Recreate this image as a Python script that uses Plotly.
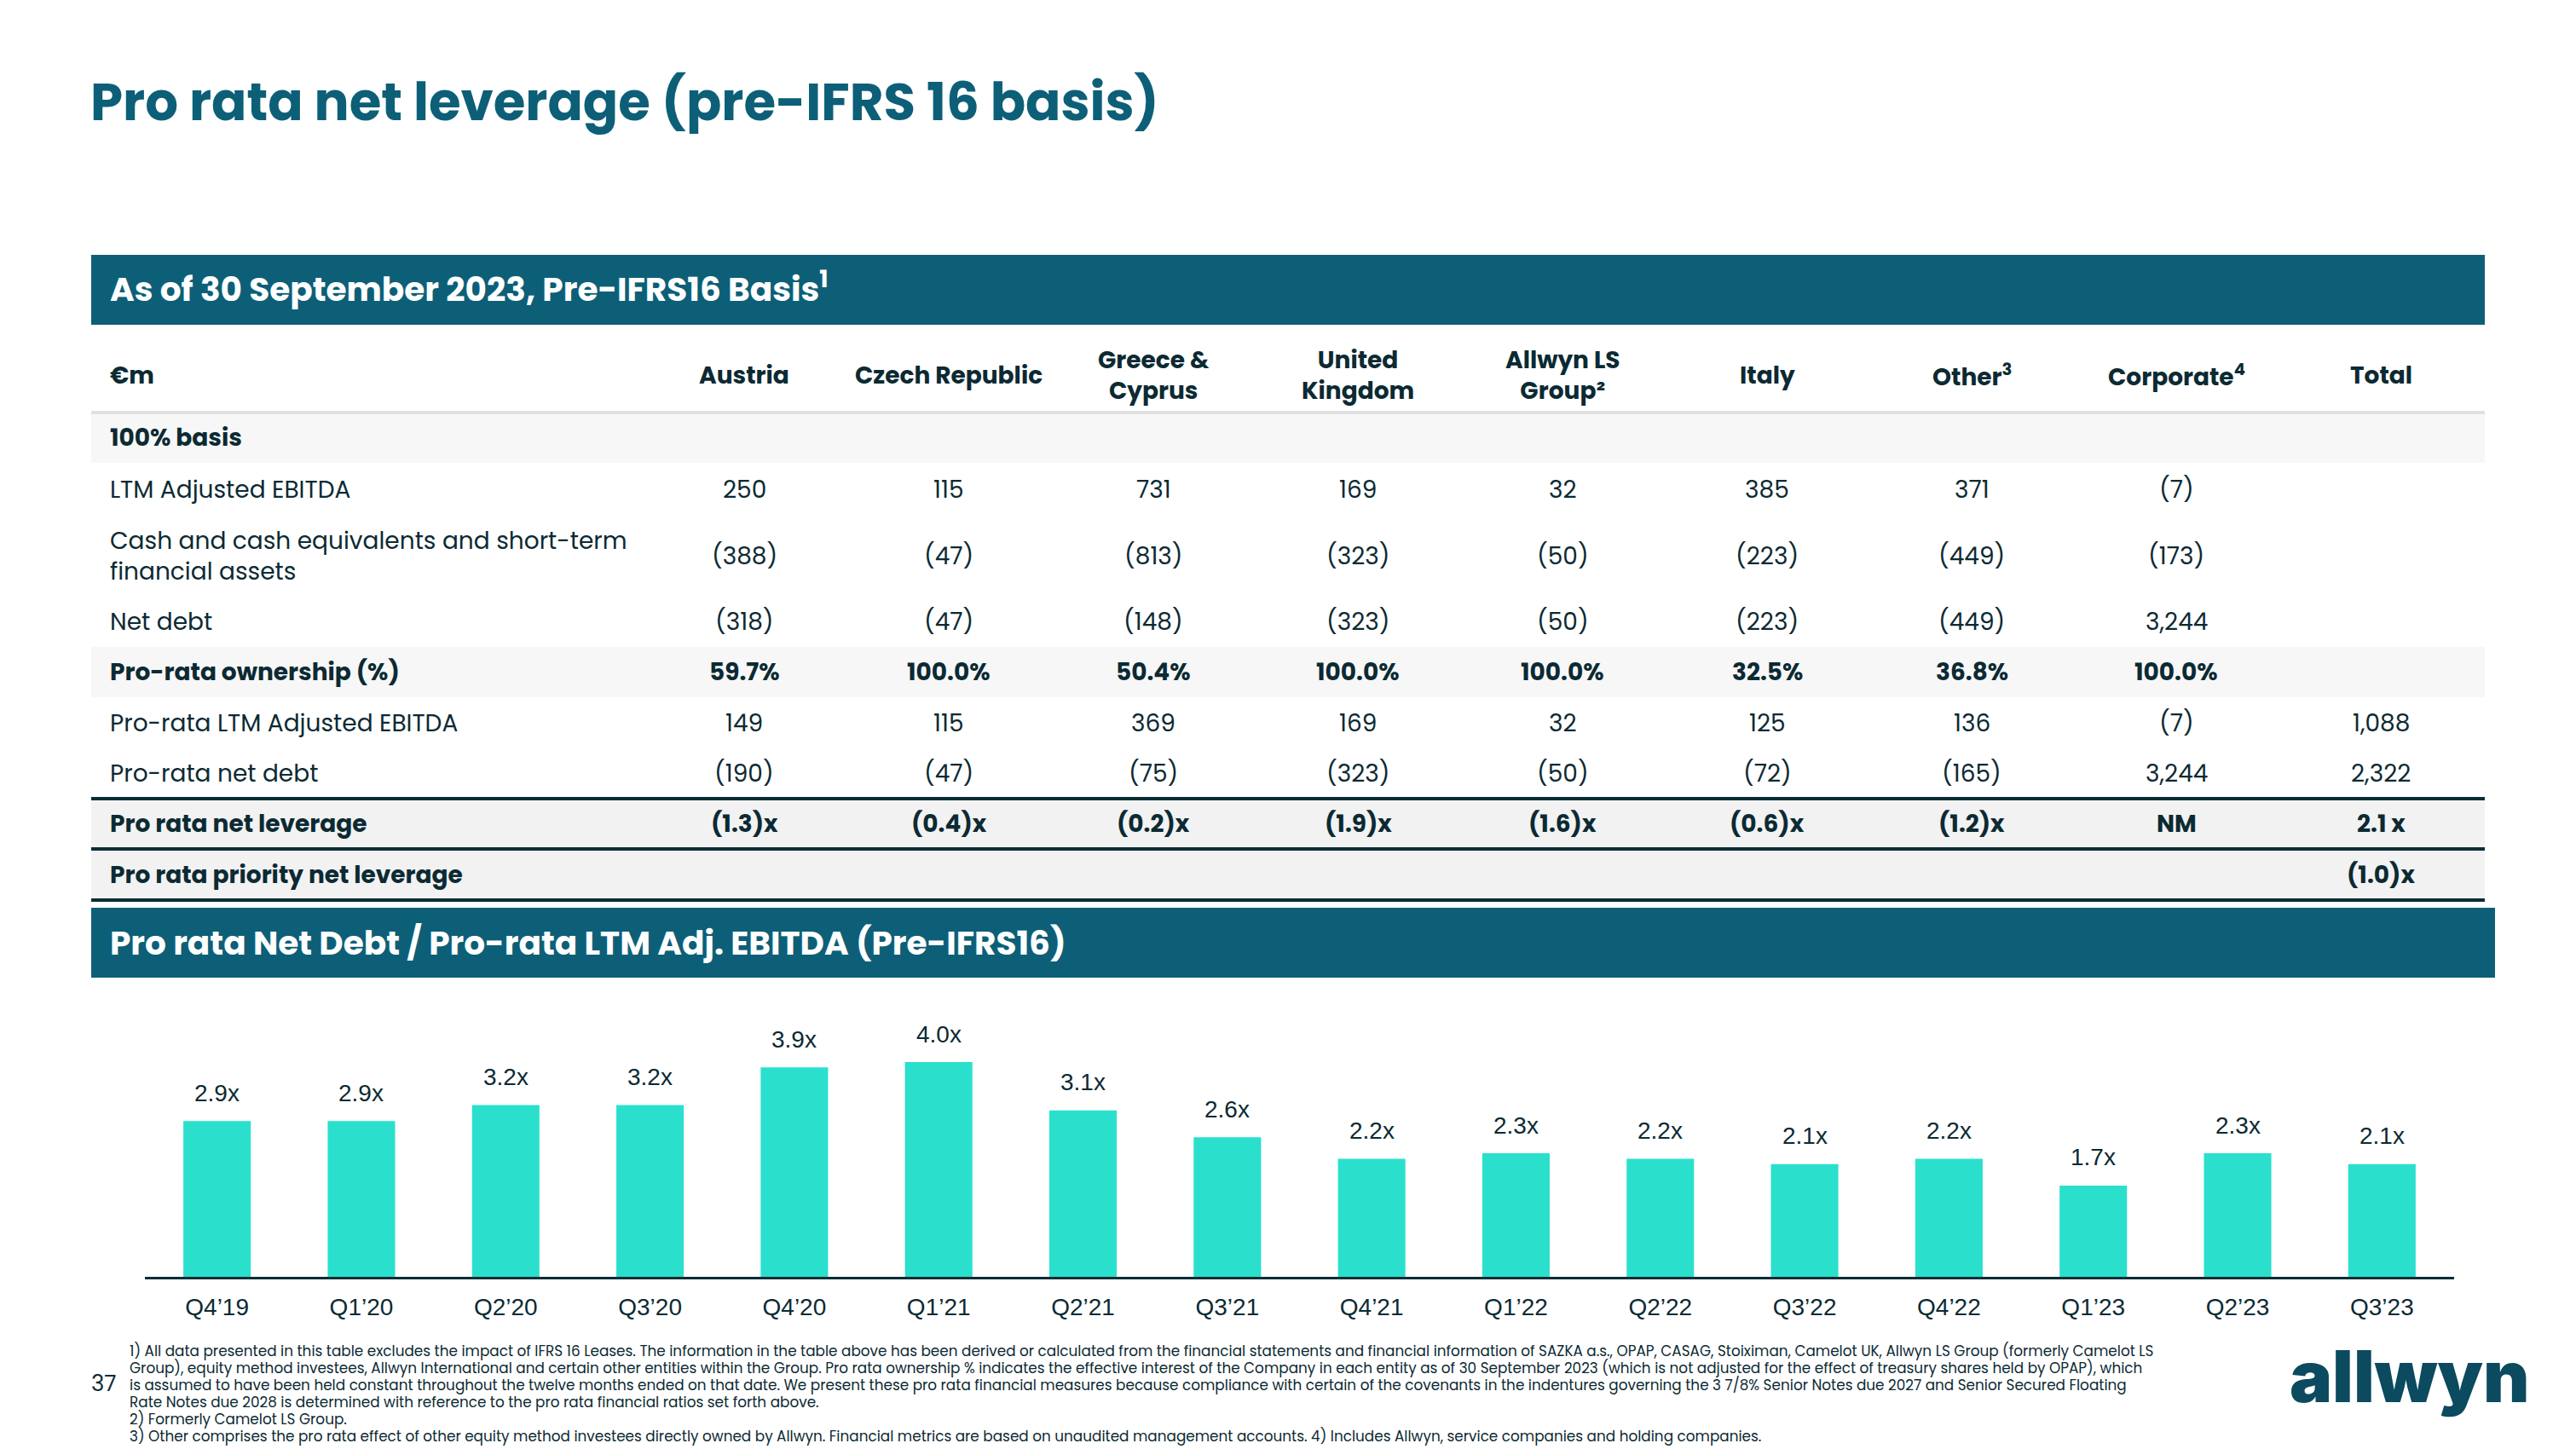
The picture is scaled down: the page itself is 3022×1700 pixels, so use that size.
import plotly.graph_objects as go

W, H = 3022, 1700

# ---------------- data ----------------
columns = ["Austria", "Czech Republic", "Greece &<br>Cyprus", "United<br>Kingdom",
           "Allwyn LS<br>Group²", "Italy", "Other<sup>3</sup>", "Corporate<sup>4</sup>", "Total"]
ltm_ebitda = [250, 115, 731, 169, 32, 385, 371, -7, None]
cash_sti = [-388, -47, -813, -323, -50, -223, -449, -173, None]
net_debt = [-318, -47, -148, -323, -50, -223, -449, 3244, None]
ownership_pct = [59.7, 100.0, 50.4, 100.0, 100.0, 32.5, 36.8, 100.0, None]
pr_ltm_ebitda = [149, 115, 369, 169, 32, 125, 136, -7, 1088]
pr_net_debt = [-190, -47, -75, -323, -50, -72, -165, 3244, 2322]
pr_net_leverage = [-1.3, -0.4, -0.2, -1.9, -1.6, -0.6, -1.2, "NM", 2.1]
pr_priority_leverage = [None, None, None, None, None, None, None, None, -1.0]

quarters = ["Q4’19", "Q1’20", "Q2’20", "Q3’20", "Q4’20", "Q1’21", "Q2’21", "Q3’21",
            "Q4’21", "Q1’22", "Q2’22", "Q3’22", "Q4’22", "Q1’23", "Q2’23", "Q3’23"]
leverage = [2.9, 2.9, 3.2, 3.2, 3.9, 4.0, 3.1, 2.6, 2.2, 2.3, 2.2, 2.1, 2.2, 1.7, 2.3, 2.1]

footnotes = [
    "1) All data presented in this table excludes the impact of IFRS 16 Leases. The information in the table above has been derived or calculated from the financial statements and financial information of SAZKA a.s., OPAP, CASAG, Stoiximan, Camelot UK, Allwyn LS Group (formerly Camelot LS",
    "Group), equity method investees, Allwyn International and certain other entities within the Group. Pro rata ownership % indicates the effective interest of the Company in each entity as of 30 September 2023 (which is not adjusted for the effect of treasury shares held by OPAP), which",
    "is assumed to have been held constant throughout the twelve months ended on that date. We present these pro rata financial measures because compliance with certain of the covenants in the indentures governing the 3 7/8% Senior Notes due 2027 and Senior Secured Floating",
    "Rate Notes due 2028 is determined with reference to the pro rata financial ratios set forth above.",
    "2) Formerly Camelot LS Group.",
    "3) Other comprises the pro rata effect of other equity method investees directly owned by Allwyn. Financial metrics are based on unaudited management accounts. 4) Includes Allwyn, service companies and holding companies.",
]

# ---------------- styles ----------------
TEAL = "#0d5f78"
DARK = "#0c2a33"
BAR = "#2ae0cd"
FONT = "Poppins, Open Sans, sans-serif"
CHART_FONT = "Liberation Sans, Arial, sans-serif"


def fmt_num(v):
    if v is None:
        return ""
    return f"({abs(v):,})" if v < 0 else f"{v:,}"


def fmt_pct(v):
    return "" if v is None else f"{v:.1f}%"


def fmt_lev(v):
    if v is None:
        return ""
    if isinstance(v, str):
        return v
    return f"({abs(v):.1f})x" if v < 0 else f"{v:.1f} x"


rows = [
    ("100% basis", None, fmt_num, True, "#f7f7f7"),
    ("LTM Adjusted EBITDA", ltm_ebitda, fmt_num, False, None),
    ("Cash and cash equivalents and short-term<br>financial assets", cash_sti, fmt_num, False, None),
    ("Net debt", net_debt, fmt_num, False, None),
    ("Pro-rata ownership (%)", ownership_pct, fmt_pct, True, "#f7f7f7"),
    ("Pro-rata LTM Adjusted EBITDA", pr_ltm_ebitda, fmt_num, False, None),
    ("Pro-rata net debt", pr_net_debt, fmt_num, False, None),
    ("Pro rata net leverage", pr_net_leverage, fmt_lev, True, "#f2f2f2"),
    ("Pro rata priority net leverage", pr_priority_leverage, fmt_lev, True, "#f2f2f2"),
]
row_heights = [59, 63, 93, 60, 59, 60, 59, 59, 60]

# layout geometry (pixels)
TABLE_LEFT, TABLE_RIGHT = 107, 2915
BAND1_TOP, BAND1_BOT = 299, 381
HEADER_BOT = 484
BAND2_TOP, BAND2_BOT, BAND2_RIGHT = 1065, 1147, 2927
LABEL_X = 127
COL_X0, COL_DX = 873, 240
AXIS_Y, UNIT_PX, YMAX = 1498, 63, 4.5
CHART_LEFT, CHART_RIGHT = 170, 2879


def px(x):
    return x / W


def py(y):
    return 1 - y / H


fig = go.Figure()

# bar chart
fig.add_trace(go.Bar(
    x=quarters, y=leverage, marker=dict(color=BAR, line=dict(width=0)),
    hoverinfo="skip", showlegend=False, xaxis="x", yaxis="y",
))
# empty trace to instantiate the table axes
fig.add_trace(go.Scatter(x=[], y=[], xaxis="x2", yaxis="y2", showlegend=False))

annotations = []
shapes = []

# bar labels
for q, v in zip(quarters, leverage):
    annotations.append(dict(x=q, y=v, xref="x", yref="y", text=f"{v:.1f}x", showarrow=False,
                            yanchor="middle", yshift=33,
                            font=dict(family=CHART_FONT, size=28, color=DARK)))

# title
annotations.append(dict(x=px(104), y=py(120), xref="paper", yref="paper", xanchor="left", yanchor="middle",
                        text="<b>Pro rata net leverage (pre-IFRS 16 basis)</b>", showarrow=False,
                        font=dict(family=FONT, size=61, color=TEAL)))

# section bands
shapes.append(dict(type="rect", xref="paper", yref="paper", x0=px(TABLE_LEFT), x1=px(TABLE_RIGHT),
                   y0=py(BAND1_BOT), y1=py(BAND1_TOP), fillcolor=TEAL, line=dict(width=0), layer="below"))
shapes.append(dict(type="rect", xref="paper", yref="paper", x0=px(TABLE_LEFT), x1=px(BAND2_RIGHT),
                   y0=py(BAND2_BOT), y1=py(BAND2_TOP), fillcolor=TEAL, line=dict(width=0), layer="below"))
annotations.append(dict(x=px(LABEL_X), y=py((BAND1_TOP + BAND1_BOT) / 2 - 3), xref="paper", yref="paper",
                        xanchor="left", yanchor="middle", showarrow=False,
                        text="<b>As of 30 September 2023, Pre-IFRS16 Basis<sup>1</sup></b>",
                        font=dict(family=FONT, size=39, color="white")))
annotations.append(dict(x=px(LABEL_X), y=py((BAND2_TOP + BAND2_BOT) / 2), xref="paper", yref="paper",
                        xanchor="left", yanchor="middle", showarrow=False,
                        text="<b>Pro rata Net Debt / Pro-rata LTM Adj. EBITDA (Pre-IFRS16)</b>",
                        font=dict(family=FONT, size=39, color="white")))

# table header
label_x_units = (LABEL_X - COL_X0) / COL_DX
hdr_y = (BAND1_BOT + HEADER_BOT) / 2 + 8
annotations.append(dict(x=label_x_units, y=hdr_y, xref="x2", yref="y2", xanchor="left", yanchor="middle",
                        text="<b>€m</b>", showarrow=False, font=dict(family=FONT, size=28, color=DARK)))
for i, c in enumerate(columns):
    annotations.append(dict(x=i, y=hdr_y, xref="x2", yref="y2", xanchor="center", yanchor="middle",
                            text=f"<b>{c}</b>", showarrow=False,
                            font=dict(family=FONT, size=28, color=DARK)))

# table rows
top = HEADER_BOT
bounds = []
for (label, vals, fmt, bold, fill), h in zip(rows, row_heights):
    bot = top + h
    bounds.append((top, bot))
    if fill:
        shapes.append(dict(type="rect", xref="paper", yref="y2", x0=px(TABLE_LEFT), x1=px(TABLE_RIGHT),
                           y0=top, y1=bot, fillcolor=fill, line=dict(width=0), layer="below"))
    cy = (top + bot) / 2
    t = f"<b>{label}</b>" if bold else label
    annotations.append(dict(x=label_x_units, y=cy, xref="x2", yref="y2", xanchor="left", yanchor="middle",
                            text=t, showarrow=False, align="left",
                            font=dict(family=FONT, size=28, color=DARK)))
    if vals is not None:
        for i, v in enumerate(vals):
            s = fmt(v)
            if not s:
                continue
            annotations.append(dict(x=i, y=cy, xref="x2", yref="y2", xanchor="center", yanchor="middle",
                                    text=f"<b>{s}</b>" if bold else s, showarrow=False,
                                    font=dict(family=FONT, size=28, color=DARK)))
    top = bot

# header separator and dark rules
shapes.append(dict(type="line", xref="paper", yref="y2", x0=px(TABLE_LEFT), x1=px(TABLE_RIGHT),
                   y0=HEADER_BOT, y1=HEADER_BOT, line=dict(color="#e0e0e0", width=4)))
for yy in (bounds[7][0], bounds[7][1], bounds[8][1]):
    shapes.append(dict(type="line", xref="paper", yref="y2", x0=px(TABLE_LEFT), x1=px(TABLE_RIGHT),
                       y0=yy, y1=yy, line=dict(color="#0b2d36", width=4)))

# footnotes
for k, line in enumerate(footnotes):
    annotations.append(dict(x=px(150), y=py(1585 + 20 * k), xref="paper", yref="paper",
                            xanchor="left", yanchor="middle", text=line, showarrow=False,
                            font=dict(family=FONT, size=16.85, color=DARK)))

# page number
annotations.append(dict(x=px(122), y=py(1623), xref="paper", yref="paper", xanchor="center", yanchor="middle",
                        text="37", showarrow=False, font=dict(family=FONT, size=26, color=DARK)))

# logo
annotations.append(dict(x=px(2826), y=py(1614), xref="paper", yref="paper", xanchor="center", yanchor="middle",
                        text="allwyn", showarrow=False,
                        font=dict(family="Inter, sans-serif", size=84, color="#0b4a5f", weight=900)))

fig.update_layout(
    width=W, height=H, autosize=False,
    margin=dict(l=0, r=0, t=0, b=0, pad=0),
    paper_bgcolor="white", plot_bgcolor="rgba(0,0,0,0)",
    bargap=0.533,
    showlegend=False,
    xaxis=dict(domain=[px(CHART_LEFT), px(CHART_RIGHT)], type="category", anchor="y",
               showline=True, linecolor="#0b2d36", linewidth=3, showgrid=False, zeroline=False,
               ticks="outside", ticklen=8, tickcolor="rgba(0,0,0,0)",
               tickfont=dict(family=CHART_FONT, size=28, color=DARK), fixedrange=True),
    yaxis=dict(domain=[py(AXIS_Y), py(AXIS_Y - YMAX * UNIT_PX)], range=[0, YMAX], visible=False,
               fixedrange=True),
    xaxis2=dict(domain=[0, 1], range=[(0 - COL_X0) / COL_DX, (W - COL_X0) / COL_DX], anchor="y2",
                visible=False, fixedrange=True),
    yaxis2=dict(domain=[0, 1], range=[H, 0], anchor="x2", visible=False, fixedrange=True),
    annotations=annotations,
    shapes=shapes,
)

fig.write_html("out.html", config={"displayModeBar": False},
               post_script="document.body.style.margin='0';document.body.style.overflow='hidden';")
